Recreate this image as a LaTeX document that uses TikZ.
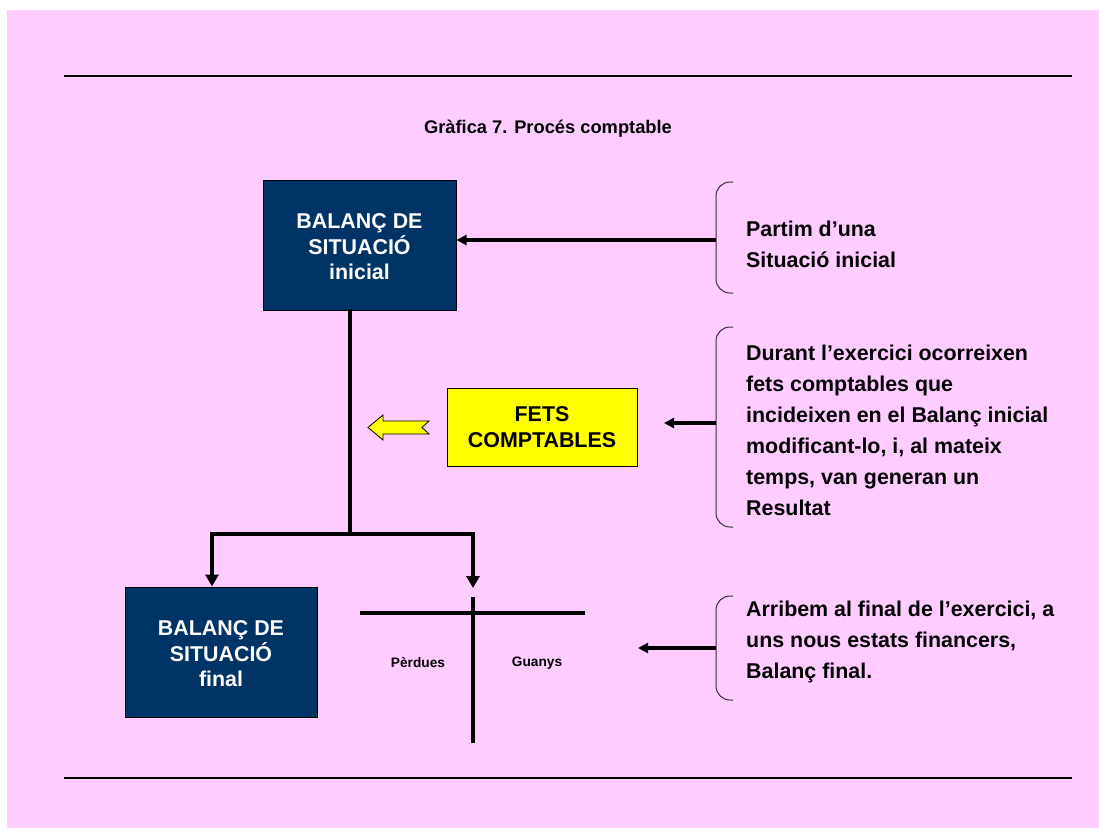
\documentclass[tikz,border=0pt]{standalone}
\usepackage{fontspec}
\setmainfont{Liberation Sans}
\usetikzlibrary{arrows.meta}
\definecolor{bgpink}{HTML}{FFCCFF}
\definecolor{navy}{HTML}{003366}
\definecolor{fetsyellow}{HTML}{FFFF00}
\definecolor{bracegray}{HTML}{333333}

\tikzset{
  balbox/.style={draw=black, line width=1pt, fill=navy, text=white, align=center,
    font=\fontsize{21.4}{25.5}\selectfont\bfseries, minimum width=192pt, minimum height=130pt, inner sep=0pt},
  fetsbox/.style={draw=black, line width=1pt, fill=fetsyellow, text=black, align=center,
    font=\fontsize{21.4}{26}\selectfont\bfseries, minimum width=190pt, minimum height=78pt, inner sep=0pt},
  bodytext/.style={anchor=west, align=left, inner sep=0pt, font=\fontsize{21.4}{31}\selectfont\bfseries},
  tlabel/.style={inner sep=0pt, font=\fontsize{13.7}{16}\selectfont\bfseries},
  flow/.style={line width=4pt, line cap=rect},
  flowarrow/.style={line width=4pt, -{Triangle[length=12pt,width=13pt]}},
  notearrow/.style={line width=3.2pt, -{Triangle[length=10pt,width=10pt]}},
  bracket/.style={draw=bracegray, line width=1pt, rounded corners=14pt},
  rule/.style={line width=2pt},
  taccount/.style={line width=3.5pt},
}

\begin{document}
\begin{tikzpicture}[x=1pt,y=-1pt]
\useasboundingbox (0,0) rectangle (1099,828);
\fill[bgpink] (7,10) rectangle (1099,828);

% header and footer rules
\draw[rule] (64,76) -- (1072,76);
\draw[rule] (64,778) -- (1072,778);

% title
\node[font=\fontsize{18.3}{22}\selectfont\bfseries] (title) at (548,129) {Gràfica 7. Procés comptable};

% balance sheets and accounting events
\node[balbox, minimum width=193pt] (bini) at (359.5,245) {};
\node[align=center, text=white, inner sep=0pt, font=\fontsize{21.4}{25.5}\selectfont\bfseries] (binitext) at (359.5,247) {BALANÇ DE\\SITUACIÓ\\inicial};
\node[balbox] (bfin) at (221,652) {};
\node[align=center, text=white, inner sep=0pt, font=\fontsize{21.4}{25.5}\selectfont\bfseries] (bfintext) at (221,654) {BALANÇ DE\\SITUACIÓ\\final};
\node[fetsbox] (fets) at (542,427) {FETS\\COMPTABLES};

% hollow yellow arrow next to the events box
\path[draw=black, line width=0.8pt, fill=fetsyellow]
  (368,427.5) -- (383,415) -- (383,421) -- (429,421) -- (422,427.5)
  -- (429,434) -- (383,434) -- (383,440) -- cycle;

% flow from the initial to the final statements
\coordinate (split) at (350,534);
\coordinate (lft) at (212,534);
\coordinate (rgt) at (473,534);
\coordinate (ttop) at (473,588);
\draw[flow] (bini.south -| split) -- (split);
\draw[flow] (lft) -- (rgt);
\draw[flowarrow] (lft) -- (lft |- bfin.north);
\draw[flowarrow] (rgt) -- (ttop);

% T-account
\coordinate (tl) at (360,613);
\coordinate (tr) at (585,613);
\coordinate (tv1) at (473,597);
\coordinate (tv2) at (473,743);
\draw[taccount] (tl) -- (tr);
\draw[taccount] (tv1) -- (tv2);
\node[tlabel] (perdues) at (418,663) {Pèrdues};
\node[tlabel] (guanys) at (537,663) {Guanys};

% notes with brackets
\draw[bracket] (733,182) -- (716,182) -- (716,293) -- (733,293);
\coordinate (br1) at (716,240);
\draw[notearrow] (br1) -- (br1 -| bini.east);
\node[bodytext] (note1) at (746,244) {Partim d’una\\Situació inicial};

\draw[bracket] (733,327) -- (716,327) -- (716,527) -- (733,527);
\coordinate (br2) at (716,423);
\coordinate (end2) at (664,423);
\draw[notearrow] (br2) -- (end2);
\node[bodytext] (note2) at (746,430) {Durant l’exercici ocorreixen\\fets comptables que\\incideixen en el Balanç inicial\\modificant-lo, i, al mateix\\temps, van generan un\\Resultat};

\draw[bracket] (733,596) -- (716,596) -- (716,700) -- (733,700);
\coordinate (br3) at (716,648);
\coordinate (end3) at (638,648);
\draw[notearrow] (br3) -- (end3);
\node[bodytext] (note3) at (746,642) {Arribem al final de l’exercici, a\\uns nous estats financers,\\Balanç final.};
\end{tikzpicture}
\end{document}
